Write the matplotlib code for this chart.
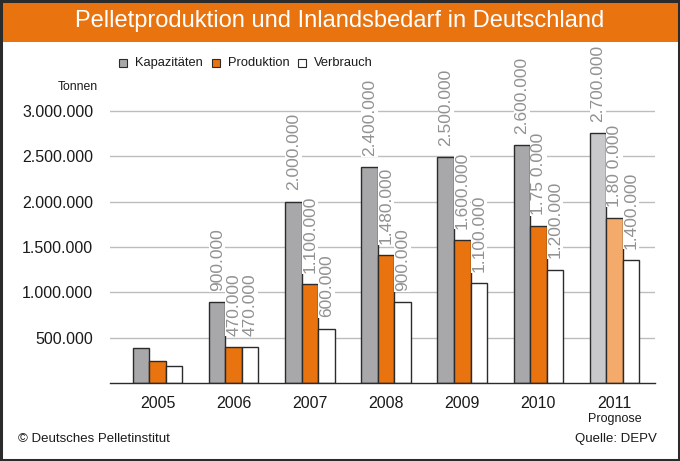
import matplotlib
matplotlib.use("Agg")
import matplotlib.pyplot as plt
import numpy as np
from matplotlib.patches import Rectangle

# data (tonnes)
years = ["2005", "2006", "2007", "2008", "2009", "2010", "2011"]
kapazitaet = [390000, 890000, 2000000, 2380000, 2490000, 2620000, 2760000]
produktion = [245000, 400000, 1090000, 1410000, 1580000, 1730000, 1820000]
verbrauch = [187000, 400000, 600000, 890000, 1100000, 1250000, 1360000]

lbl_kap = ["", "900.000", "2.000.000", "2.400.000", "2.500.000", "2.600.000", "2.700.000"]
lbl_prod = ["", "470.000", "1.100.000", "1.480.000", "1.600.000", "1.75 0.000", "1.80 0.000"]
lbl_verb = ["", "470.000", "600.000", "900.000", "1.100.000", "1.200.000", "1.400.000"]

yticks = [500000, 1000000, 1500000, 2000000, 2500000, 3000000]
ytick_labels = ["500.000", "1.000.000", "1.500.000", "2.000.000", "2.500.000", "3.000.000"]

plt.rcParams["font.family"] = ["Liberation Sans", "DejaVu Sans"]

C_ORANGE = "#E8730F"
C_GRAY = "#A8A8AA"
C_GRAY_LIGHT = "#C9C9CB"
C_ORANGE_LIGHT = "#F4AA6A"
C_LABEL = "#929292"
C_EDGE = "#2B2B2B"

W, H = 680, 461
fig = plt.figure(figsize=(W / 100, H / 100), dpi=100)
fig.patch.set_facecolor("white")


def px(x0, y0, w, h):
    # rectangle in pixels (top-left origin) -> figure fraction
    return [x0 / W, 1 - (y0 + h) / H, w / W, h / H]


# title bar
fig.patches.append(Rectangle((0, 1 - 42 / H), 1, 42 / H, transform=fig.transFigure,
                             facecolor=C_ORANGE, edgecolor="none", zorder=0))
fig.text(0.5, 1 - 21 / H, "Pelletproduktion und Inlandsbedarf in Deutschland",
         color="white", fontsize=17, ha="center", va="center")

# outer frame
fig.patches.append(Rectangle((0.002, 0.003), 0.996, 0.994, transform=fig.transFigure,
                             facecolor="none", edgecolor=C_EDGE, linewidth=2.2, zorder=10))

# axes: baseline at y=383 px, 90.7 px per million
ymax = 3500000
ax = fig.add_axes(px(110, 383 - 317.5, 545, 317.5))
ax.set_facecolor("none")
x = np.arange(len(years))
bw = 0.217
ax.set_xlim(-0.623, 6.53)
ax.set_ylim(0, ymax)

kap_colors = [C_GRAY] * 6 + [C_GRAY_LIGHT]
prod_colors = [C_ORANGE] * 6 + [C_ORANGE_LIGHT]

ax.bar(x - bw, kapazitaet, bw, color=kap_colors, edgecolor=C_EDGE, linewidth=1, zorder=2)
ax.bar(x, produktion, bw, color=prod_colors, edgecolor=C_EDGE, linewidth=1, zorder=2)
ax.bar(x + bw, verbrauch, bw, color="white", edgecolor=C_EDGE, linewidth=1, zorder=2)

for vals, labels, off in ((kapazitaet, lbl_kap, -bw), (produktion, lbl_prod, 0), (verbrauch, lbl_verb, bw)):
    for i, (v, t) in enumerate(zip(vals, labels)):
        if not t:
            continue
        ax.annotate(t, (i + off, v), xytext=(0, 8), textcoords="offset points",
                    rotation=90, ha="center", va="bottom", fontsize=12.5,
                    color=C_LABEL, zorder=3, annotation_clip=False,
                    bbox=dict(facecolor="white", edgecolor="none", pad=0.5))

ax.set_yticks(yticks)
ax.set_yticklabels(ytick_labels, fontsize=11.5, color="#1a1a1a")
ax.grid(True, axis="y", color="#BDBDBD", linewidth=1, zorder=0)
ax.tick_params(axis="y", length=0, pad=12)
ax.set_xticks(x)
ax.set_xticklabels(years, fontsize=11.5, color="#1a1a1a")
ax.tick_params(axis="x", length=0, pad=9)
for s in ("top", "right", "left"):
    ax.spines[s].set_visible(False)
ax.spines["bottom"].set_color(C_EDGE)
ax.spines["bottom"].set_linewidth(1)
ax.spines["bottom"].set_zorder(4)

ax.text(6, -0.113 * ymax, "Prognose", ha="center", va="center", fontsize=9,
        color="#1a1a1a")

# legend
leg_items = [(119, C_GRAY, "Kapazitäten"), (212, C_ORANGE, "Produktion"), (298, "white", "Verbrauch")]
for lx, col, txt in leg_items:
    fig.patches.append(Rectangle((lx / W, 1 - 67 / H), 8 / W, 8 / H, transform=fig.transFigure,
                                 facecolor=col, edgecolor=C_EDGE, linewidth=0.8))
    fig.text((lx + 16) / W, 1 - 63 / H, txt, fontsize=9.3, va="center", ha="left",
             color="#1a1a1a")

fig.text(98 / W, 1 - 87 / H, "Tonnen", fontsize=8.8, ha="right", va="center", color="#1a1a1a")

fig.text(18 / W, 1 - 439 / H, "© Deutsches Pelletinstitut", fontsize=9.5, ha="left",
         va="center", color="#1a1a1a")
fig.text(657 / W, 1 - 439 / H, "Quelle: DEPV", fontsize=9.5, ha="right",
         va="center", color="#1a1a1a")

fig.savefig("out.png", dpi=100)
